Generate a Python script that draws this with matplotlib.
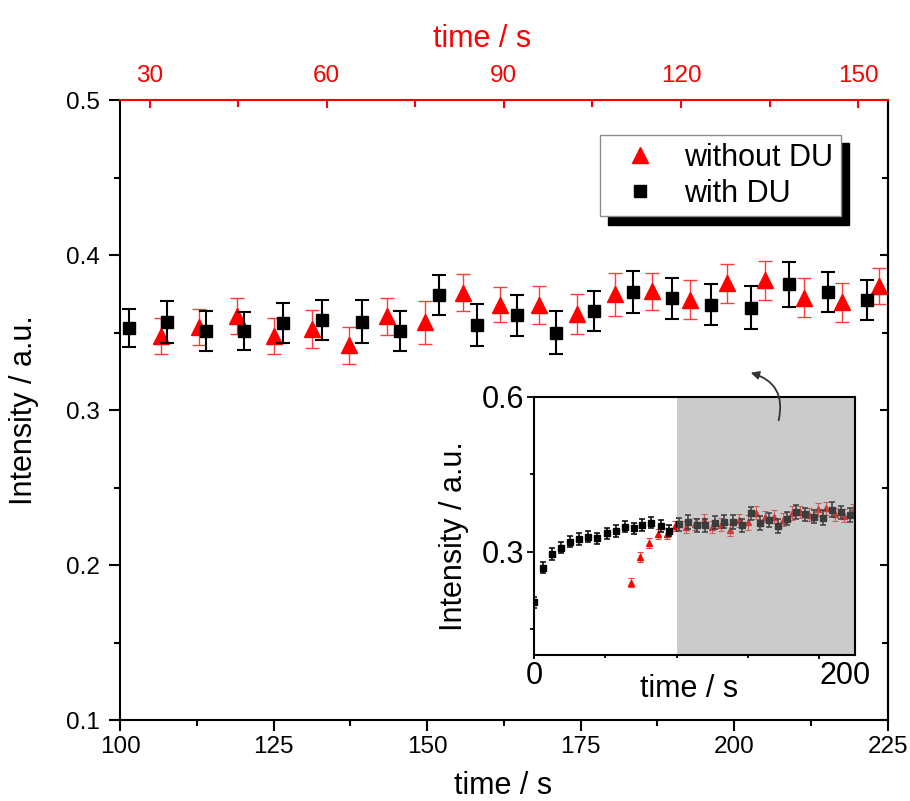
import matplotlib
matplotlib.use('Agg')
import matplotlib.pyplot as plt
from matplotlib.ticker import MultipleLocator, FixedLocator

plt.rcParams['font.family'] = ['Liberation Sans', 'DejaVu Sans']

# main panel data (time / s on bottom axis)
black_x = [101.4, 107.6, 114.0, 120.2, 126.6, 132.9, 139.4, 145.6, 151.9, 158.2,
           164.6, 171.0, 177.2, 183.5, 189.9, 196.3, 202.7, 208.9, 215.3, 221.6]
black_y = [0.353, 0.357, 0.351, 0.351, 0.356, 0.358, 0.357, 0.351, 0.374, 0.355,
           0.361, 0.350, 0.364, 0.376, 0.372, 0.368, 0.366, 0.381, 0.376, 0.371]
black_err = [0.0125, 0.0135, 0.0127, 0.0125, 0.013, 0.013, 0.014, 0.013, 0.013, 0.0135,
             0.0135, 0.0137, 0.013, 0.0135, 0.0135, 0.0132, 0.014, 0.0143, 0.013, 0.0132]

red_x = [106.7, 112.9, 119.0, 125.1, 131.3, 137.3, 143.5, 149.7, 155.9, 161.9,
         168.2, 174.4, 180.6, 186.7, 192.8, 198.8, 205.0, 211.3, 217.5, 223.6]
red_y = [0.348, 0.3535, 0.3606, 0.3477, 0.3524, 0.3417, 0.3605, 0.3565, 0.3758, 0.3679,
         0.3677, 0.3617, 0.3746, 0.3766, 0.3713, 0.3817, 0.3836, 0.3726, 0.3694, 0.3798]
red_err = [0.0117, 0.0116, 0.0115, 0.0116, 0.0121, 0.012, 0.012, 0.0139, 0.012, 0.0113,
           0.0122, 0.0129, 0.0137, 0.012, 0.0126, 0.0124, 0.0126, 0.0124, 0.0124, 0.0116]

# early points only seen in the inset
black_x_early = [0.2, 6.5, 12.8, 19.2, 25.5, 31.8, 38.1, 44.4, 51.0, 57.3,
                 63.6, 70.0, 76.0, 82.3, 88.9, 94.9]
black_y_early = [0.202, 0.269, 0.2955, 0.3077, 0.3194, 0.3246, 0.329, 0.3259, 0.3356, 0.340,
                 0.3484, 0.3453, 0.3517, 0.3561, 0.3497, 0.3406]
black_err_early = [0.011, 0.011, 0.011, 0.011, 0.011, 0.011, 0.011, 0.011, 0.011, 0.011,
                   0.011, 0.011, 0.011, 0.011, 0.011, 0.011]
red_x_early = [68.1, 74.5, 80.9, 87.2, 93.3, 98.8]
red_y_early = [0.240, 0.2895, 0.317, 0.334, 0.335, 0.350]
red_err_early = [0.009, 0.01, 0.01, 0.01, 0.01, 0.01]

labels = ['without DU', 'with DU']

fig = plt.figure(figsize=(9.1, 8.01), dpi=100)
ax = fig.add_axes([0.1319, 0.1011, 0.8436, 0.7740])

r = ax.errorbar(red_x, red_y, yerr=red_err, fmt='^', color='red', ms=11.5,
                ecolor='#ff3b3b', elinewidth=1, capsize=5, capthick=1, zorder=3)
b = ax.errorbar(black_x, black_y, yerr=black_err, fmt='s', color='black', ms=9,
                ecolor='black', elinewidth=1.5, capsize=5, capthick=1.5, zorder=4)

ax.set_xlim(100, 225)
ax.set_ylim(0.1, 0.5)
ax.xaxis.set_major_locator(MultipleLocator(25))
ax.xaxis.set_minor_locator(MultipleLocator(12.5))
ax.yaxis.set_major_locator(MultipleLocator(0.1))
ax.yaxis.set_minor_locator(MultipleLocator(0.05))
ax.tick_params(which='both', direction='out', width=1.5, labelsize=17.5, top=False, right=False)
ax.tick_params(which='major', length=8)
ax.tick_params(which='minor', length=4.5)
ax.tick_params(axis='y', pad=6.5)
for s in ax.spines.values():
    s.set_linewidth(1.5)
ax.spines['top'].set_visible(False)

ax.set_xlabel('time / s', fontsize=22)
ax.xaxis.set_label_coords(0.499, -0.082)
ax.set_ylabel('Intensity / a.u.', fontsize=22)
ax.yaxis.set_label_coords(-0.1055, 0.5)

# right side: inward ticks, no labels
ax_r = ax.secondary_yaxis('right')
ax_r.yaxis.set_major_locator(MultipleLocator(0.1))
ax_r.yaxis.set_minor_locator(MultipleLocator(0.05))
ax_r.tick_params(which='both', direction='in', width=1.5, labelright=False)
ax_r.tick_params(which='major', length=6)
ax_r.tick_params(which='minor', length=4)
ax_r.spines['right'].set_linewidth(1.5)

# red top axis
ax_top = ax.twiny()
ax_top.set_xlim(25, 155)
ax_top.xaxis.set_major_locator(MultipleLocator(30))
ax_top.xaxis.set_minor_locator(MultipleLocator(15))
for k in ['left', 'right', 'bottom']:
    ax_top.spines[k].set_visible(False)
ax_top.spines['top'].set_color('red')
ax_top.spines['top'].set_linewidth(1.5)
ax_top.tick_params(which='both', direction='in', colors='red', width=1.5, labelsize=17.5, pad=9.4)
ax_top.tick_params(which='major', length=6)
ax_top.tick_params(which='minor', length=5)
ax_top.set_xlabel('time / s', fontsize=22, color='red')
ax_top.xaxis.set_label_coords(0.472, 1.086)

leg = ax_top.legend([r[0], b[0]], labels, loc='upper left',
                    bbox_to_anchor=(600 / 910, 1 - 135 / 801), bbox_transform=fig.transFigure,
                    borderaxespad=0, fontsize=22, frameon=True, fancybox=False,
                    shadow={'facecolor': 'black', 'edgecolor': 'black', 'alpha': 1, 'ox': 6, 'oy': -6},
                    borderpad=0.25, handlelength=2.1, handletextpad=0.4, labelspacing=0.2,
                    framealpha=1, edgecolor='#8c8c8c')
leg.get_frame().set_linewidth(1)

# inset
ax_in = fig.add_axes([534 / 910, 1 - 655 / 801, 321 / 910, 258.3 / 801])
ax_in.errorbar(red_x_early + red_x, red_y_early + red_y, yerr=red_err_early + red_err,
               fmt='^', color='red', ms=5, ecolor='#ff3b3b', elinewidth=0.8,
               capsize=2.5, capthick=0.8, zorder=3)
ax_in.errorbar(black_x_early + black_x, black_y_early + black_y,
               yerr=black_err_early + black_err, fmt='s', color='black', ms=4.5,
               ecolor='black', elinewidth=1.1, capsize=2.5, capthick=1.1, zorder=4)
ax_in.axvspan(100, 225, color='#8a8a8a', alpha=0.44, lw=0, zorder=5)
ax_in.set_xlim(0, 225)
ax_in.set_ylim(0.1, 0.6)
ax_in.xaxis.set_major_locator(FixedLocator([0, 200]))
ax_in.xaxis.set_minor_locator(MultipleLocator(50))
ax_in.yaxis.set_major_locator(FixedLocator([0.3, 0.6]))
ax_in.yaxis.set_minor_locator(FixedLocator([0.15, 0.45]))
ax_in.tick_params(which='both', direction='out', width=1.3, labelsize=22)
ax_in.tick_params(axis='y', which='major', length=5, pad=2)
ax_in.tick_params(axis='y', which='minor', length=3)
ax_in.tick_params(axis='x', which='major', length=3, pad=1)
ax_in.tick_params(axis='x', which='minor', length=2)
for s in ax_in.spines.values():
    s.set_linewidth(1.5)
    s.set_zorder(6)
for t in ax_in.get_xticklabels():
    if t.get_text() == '200':
        t.set_ha('left')
ax_in.set_xlabel('time / s', fontsize=22)
ax_in.xaxis.set_label_coords(0.484, -0.074)
ax_in.set_ylabel('Intensity / a.u.', fontsize=22)
ax_in.yaxis.set_label_coords(-0.2025, 0.46)

ax_in.annotate('', xy=(748 / 910, 1 - 372 / 801), xycoords='figure fraction',
               xytext=(778 / 910, 1 - 423 / 801), textcoords='figure fraction',
               arrowprops=dict(arrowstyle='-|>', connectionstyle='arc3,rad=0.5',
                               color='#333333', lw=1.3, mutation_scale=12),
               annotation_clip=False, zorder=10)

fig.savefig('out.png', dpi=100)
